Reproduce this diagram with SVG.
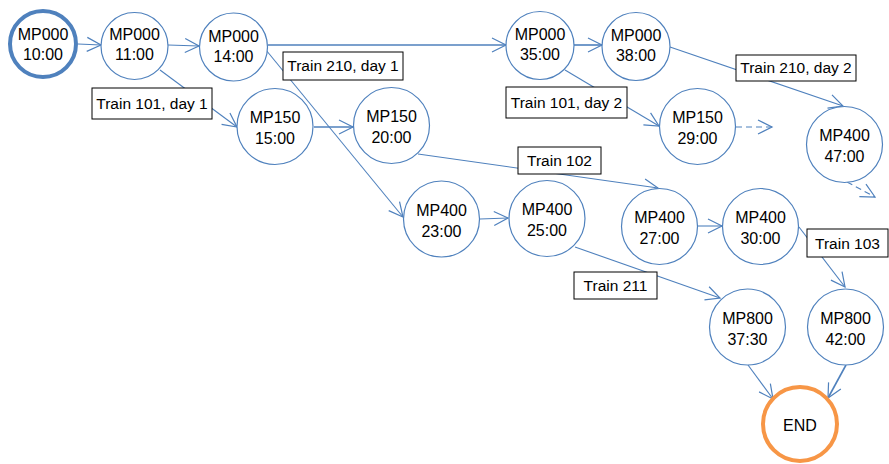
<svg xmlns="http://www.w3.org/2000/svg" width="889" height="464" viewBox="0 0 889 464">
  <style>
    .node circle { fill: #ffffff; stroke: #4F81BD; stroke-width: 1.2; }
    .node text, .label text { font-family: "Liberation Sans", Arial, sans-serif; font-size: 15.5px; fill: #000000; text-anchor: middle; }
    .node text { font-size: 16px; }
    .label rect { fill: #ffffff; stroke: #000000; stroke-width: 1; }
    .edge { fill: none; stroke: #4F81BD; stroke-width: 1.1; marker-end: url(#arrow); }
    .bold { stroke-width: 1.6; }
    .dash { stroke-dasharray: 6 4; }
    #start circle { stroke-width: 4; }
    #end circle { stroke: #F79646; stroke-width: 4; }
  </style>
  <defs>
    <marker id="arrow" markerUnits="userSpaceOnUse" markerWidth="18" markerHeight="18" refX="14" refY="7" orient="auto" overflow="visible">
      <path d="M0,0 L14,7 L0,14" fill="none" stroke="#4F81BD" stroke-width="1.2"/>
    </marker>
  </defs>

  <rect width="889" height="464" fill="#ffffff"/>

  <!-- connectors -->
  <g id="connectors">
    <line class="edge" x1="78" y1="44" x2="101" y2="45"/>
    <line class="edge" x1="168" y1="45" x2="199" y2="46"/>
    <line class="edge bold" x1="268" y1="45" x2="506" y2="45"/>
    <line class="edge bold" x1="574" y1="45" x2="602" y2="45"/>
    <line class="edge" x1="160" y1="70" x2="237" y2="127"/>
    <line class="edge" x1="266" y1="50" x2="403" y2="217"/>
    <line class="edge bold" x1="314" y1="127" x2="353" y2="127"/>
    <line class="edge" x1="418" y1="154" x2="658" y2="188"/>
    <line class="edge" x1="480" y1="219" x2="508" y2="218"/>
    <line class="edge" x1="575" y1="247" x2="720" y2="298"/>
    <line class="edge" x1="698" y1="226" x2="722" y2="226"/>
    <line class="edge" x1="799" y1="227" x2="845" y2="287"/>
    <line class="edge" x1="565" y1="70" x2="659" y2="126"/>
    <line class="edge" x1="670" y1="47" x2="843" y2="106"/>
    <line class="edge dash" x1="736" y1="127" x2="772" y2="127"/>
    <line class="edge dash" x1="847" y1="182" x2="875" y2="197"/>
    <line class="edge" x1="748" y1="365" x2="773" y2="399"/>
    <line class="edge bold" x1="846" y1="365" x2="828" y2="398"/>
  </g>

  <!-- train labels -->
  <g id="lbl-101-d1" class="label"><rect x="92" y="88" width="120" height="31"/><text x="152" y="108.5">Train 101, day 1</text></g>
  <g id="lbl-210-d1" class="label"><rect x="283" y="52" width="120" height="28"/><text x="343" y="71">Train 210, day 1</text></g>
  <g id="lbl-101-d2" class="label"><rect x="506" y="87" width="121" height="31"/><text x="566.5" y="107.5">Train 101, day 2</text></g>
  <g id="lbl-210-d2" class="label"><rect x="736" y="55" width="120" height="26"/><text x="796" y="73">Train 210, day 2</text></g>
  <g id="lbl-102" class="label"><rect x="518" y="147" width="83" height="27"/><text x="559.5" y="166">Train 102</text></g>
  <g id="lbl-211" class="label"><rect x="574" y="272" width="83" height="27"/><text x="615.5" y="291">Train 211</text></g>
  <g id="lbl-103" class="label"><rect x="807" y="229" width="81" height="28"/><text x="847.5" y="248.5">Train 103</text></g>

  <!-- stations -->
  <g id="start" class="node"><circle cx="43" cy="44" r="33"/><text x="43" y="40">MP000</text><text x="43" y="60">10:00</text></g>
  <g id="n-mp000-1100" class="node"><circle cx="134.5" cy="46" r="33.5"/><text x="134.5" y="40">MP000</text><text x="134.5" y="60">11:00</text></g>
  <g id="n-mp000-1400" class="node"><circle cx="233.5" cy="47" r="34"/><text x="233.5" y="41.5">MP000</text><text x="233.5" y="61.5">14:00</text></g>
  <g id="n-mp000-3500" class="node"><circle cx="540" cy="45.5" r="34"/><text x="540" y="40">MP000</text><text x="540" y="60">35:00</text></g>
  <g id="n-mp000-3800" class="node"><circle cx="636" cy="46.5" r="34"/><text x="636" y="41">MP000</text><text x="636" y="61">38:00</text></g>
  <g id="n-mp150-1500" class="node"><circle cx="275" cy="126.5" r="38"/><text x="275" y="123">MP150</text><text x="275" y="144">15:00</text></g>
  <g id="n-mp150-2000" class="node"><circle cx="391.5" cy="125.5" r="38"/><text x="391.5" y="122">MP150</text><text x="391.5" y="143">20:00</text></g>
  <g id="n-mp150-2900" class="node"><circle cx="697.5" cy="126.5" r="38"/><text x="697.5" y="123">MP150</text><text x="697.5" y="144">29:00</text></g>
  <g id="n-mp400-2300" class="node"><circle cx="441.5" cy="219" r="38"/><text x="441.5" y="215.5">MP400</text><text x="441.5" y="236.5">23:00</text></g>
  <g id="n-mp400-2500" class="node"><circle cx="547" cy="218.5" r="38"/><text x="547" y="215">MP400</text><text x="547" y="236">25:00</text></g>
  <g id="n-mp400-2700" class="node"><circle cx="659.5" cy="226.5" r="38"/><text x="659.5" y="223">MP400</text><text x="659.5" y="244">27:00</text></g>
  <g id="n-mp400-3000" class="node"><circle cx="760.5" cy="226.5" r="38"/><text x="760.5" y="223">MP400</text><text x="760.5" y="244">30:00</text></g>
  <g id="n-mp400-4700" class="node"><circle cx="844.5" cy="144.5" r="38"/><text x="844.5" y="141">MP400</text><text x="844.5" y="162">47:00</text></g>
  <g id="n-mp800-3730" class="node"><circle cx="747.5" cy="327" r="38"/><text x="747.5" y="323.5">MP800</text><text x="747.5" y="344.5">37:30</text></g>
  <g id="n-mp800-4200" class="node"><circle cx="845.5" cy="327" r="38"/><text x="845.5" y="323.5">MP800</text><text x="845.5" y="344.5">42:00</text></g>
  <g id="end" class="node"><circle cx="800" cy="424" r="37"/><text x="800" y="431">END</text></g>
</svg>
